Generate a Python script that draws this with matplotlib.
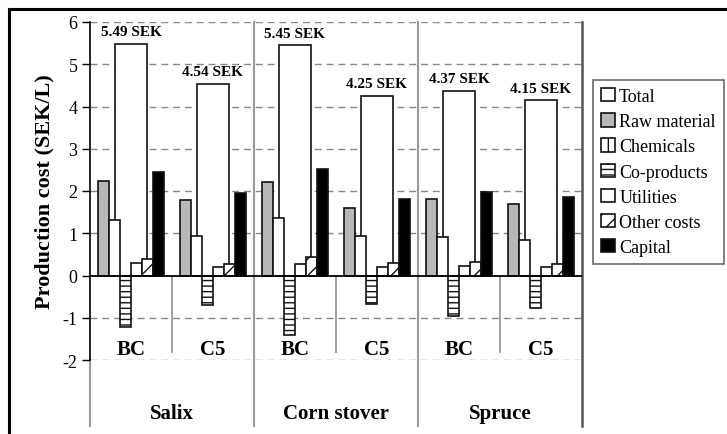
import numpy as np
import matplotlib
matplotlib.use("Agg")
import matplotlib.pyplot as plt
from matplotlib.patches import Patch
from matplotlib.lines import Line2D

plt.rcParams['font.family'] = ['Liberation Serif', 'DejaVu Serif']
plt.rcParams['hatch.linewidth'] = 1.0
plt.rcParams['axes.unicode_minus'] = False

# data (SEK/L)
groups = ['Salix', 'Corn stover', 'Spruce']
cases = ['BC', 'C5', 'BC', 'C5', 'BC', 'C5']
total = [5.49, 4.54, 5.45, 4.25, 4.37, 4.15]
raw_material = [2.23, 1.78, 2.22, 1.60, 1.80, 1.70]
chemicals = [1.31, 0.93, 1.37, 0.93, 0.92, 0.85]
co_products = [-1.23, -0.70, -1.40, -0.68, -0.95, -0.78]
utilities = [0.29, 0.21, 0.28, 0.20, 0.22, 0.20]
other_costs = [0.39, 0.28, 0.43, 0.30, 0.32, 0.28]
capital = [2.46, 1.96, 2.51, 1.82, 1.98, 1.86]
total_labels = ['5.49 SEK', '4.54 SEK', '5.45 SEK', '4.25 SEK', '4.37 SEK', '4.15 SEK']

fig = plt.figure(figsize=(7.27, 4.35), dpi=100)
ax = fig.add_axes([90/727, 1-361/435, 492/727, 338/435])

x = np.arange(len(cases)) + 0.5
w = 0.134
ec = '#111111'

# total bar behind the components
ax.bar(x, total, 0.40, color='white', edgecolor=ec, lw=1.2, zorder=2)

comps = [
    (raw_material, '#b8b8b8', None),
    (chemicals, 'white', None),
    (co_products, 'white', '---'),
    (utilities, 'white', None),
    (other_costs, 'white', '//'),
    (capital, 'black', None),
]
for i, (vals, col, h) in enumerate(comps):
    ax.bar(x + (i - 2.5) * w, vals, w, color=col, edgecolor=ec, lw=1.2,
           hatch=h, zorder=3)

for xi, t, lab in zip(x, total, total_labels):
    ax.annotate(lab, (xi, t), xytext=(0, 4), textcoords='offset points',
                ha='center', va='bottom', fontsize=11, fontweight='bold')

ax.set_xlim(0, 6)
ax.set_ylim(-2, 6)
ax.set_yticks(range(-2, 7))
ax.set_xticks([])
ax.tick_params(axis='y', direction='out', length=6, width=1, labelsize=13, pad=3)
for yy in range(-2, 7):
    if yy != 0:
        ax.axhline(yy, color='#888888', lw=1, ls=(0, (5, 3.5)), zorder=1)
ax.axhline(0, color='black', lw=1.3, zorder=4)

for s in ['top', 'bottom', 'right']:
    ax.spines[s].set_visible(False)
ax.spines['left'].set_linewidth(1.2)

# separators
ybot = -3.57
ax.plot([6, 6], [6, ybot], color='#555555', lw=1.8, clip_on=False, zorder=1)
for gx in [2, 4]:
    ax.plot([gx, gx], [6, ybot], color='#999999', lw=1.5, clip_on=False, zorder=1)
ax.plot([0, 0], [-2, ybot], color='#999999', lw=1.5, clip_on=False, zorder=1)
for sx in [1, 3, 5]:
    ax.plot([sx, sx], [0, -1.82], color='#999999', lw=1.3, zorder=1)

for xi, c in zip(x, cases):
    ax.text(xi, -1.75, c, ha='center', va='center', fontsize=15, fontweight='bold')
for gi, g in enumerate(groups):
    ax.text(2 * gi + 1, -3.25, g, ha='center', va='center', fontsize=15,
            fontweight='bold', clip_on=False)

ax.set_ylabel('Production cost (SEK/L)', fontsize=16, fontweight='bold', labelpad=6)

handles = [
    Patch(facecolor='white', edgecolor=ec, lw=1.2, label='Total'),
    Patch(facecolor='#b8b8b8', edgecolor=ec, lw=1.2, label='Raw material'),
    Patch(facecolor='white', edgecolor=ec, lw=1.2, hatch='|', label='Chemicals'),
    Patch(facecolor='white', edgecolor=ec, lw=1.2, hatch='---', label='Co-products'),
    Patch(facecolor='white', edgecolor=ec, lw=1.2, label='Utilities'),
    Patch(facecolor='white', edgecolor=ec, lw=1.2, hatch='//', label='Other costs'),
    Patch(facecolor='black', edgecolor=ec, lw=1.2, label='Capital'),
]
leg = fig.legend(handles=handles, loc='upper left', bbox_to_anchor=(593/727, 1-81/435),
                 fontsize=13, frameon=True, fancybox=False, edgecolor='#444444',
                 handlelength=0.75, handleheight=0.75, handletextpad=0.25,
                 labelspacing=0.45, borderpad=0.45, borderaxespad=0)
leg.get_frame().set_linewidth(1.2)

# outer frame (top and left edges visible)
fig.add_artist(Line2D([9/727, 9/727], [0, 1-10/435], color='black', lw=2.2,
                      transform=fig.transFigure))
fig.add_artist(Line2D([9/727, 1], [1-10/435, 1-10/435], color='black', lw=2.2,
                      transform=fig.transFigure))

fig.savefig('out.png', dpi=100)
